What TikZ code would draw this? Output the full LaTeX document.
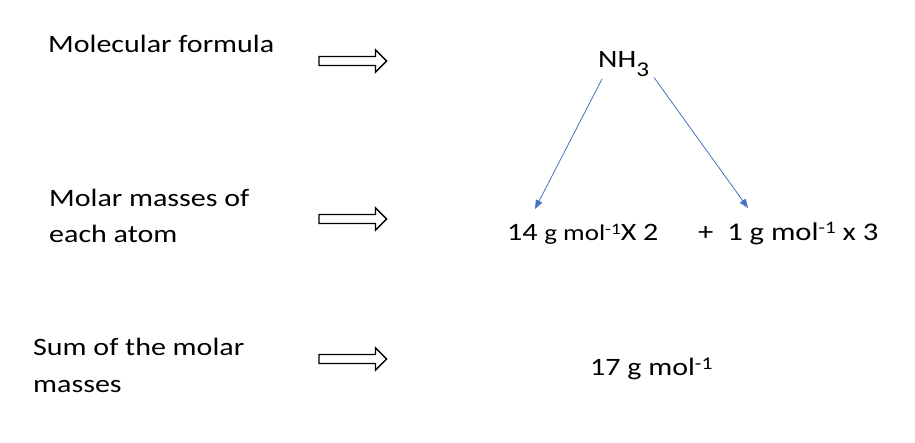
\documentclass[tikz,border=0pt]{standalone}
\usepackage{fontspec}
\setmainfont{Carlito}[FakeStretch=1.2]
\usetikzlibrary{arrows.meta, shapes.arrows}
\definecolor{LinkBlau}{RGB}{68,114,196}
\newcommand{\molsup}[2]{\raisebox{#1}{\fontsize{#2}{#2}\selectfont -1}}

\begin{document}
\begin{tikzpicture}[x=1pt, y=-1pt,
    label/.style={anchor=base west, inner sep=0pt, align=left, font=\fontsize{25}{36.5}\selectfont},
    fatarrow/.style={draw=black, line width=1.3pt, single arrow, single arrow head extend=6.5pt,
        minimum height=67.7pt, inner xsep=0pt, inner ysep=3.9pt, text height=0pt, text depth=0pt},
    link/.style={draw=LinkBlau, line width=0.8pt, -{Triangle[length=9pt, width=7pt]}}]
    \useasboundingbox (0,0) rectangle (915,443);
    % left column (multi-line nodes sit on their last line)
    \node[label] (MF) at (48,53)  {Molecular formula};
    \node[label] (MM) at (49,243) {Molar masses of\\each atom};
    \node[label] (SM) at (33,392) {Sum of the molar\\masses};
    % block arrows
    \node[fatarrow] (AR1) at (350.5,61)  {};
    \node[fatarrow] (AR2) at (350.5,219) {};
    \node[fatarrow] (AR3) at (350.5,359) {};
    % right column
    \node[label] (NH)  at (598,68)  {NH\raisebox{-9pt}{\fontsize{21}{21}\selectfont 3}};
    \node[label] (N14) at (507,241) {14 {\fontsize{22.5}{22.5}\selectfont g mol\molsup{6pt}{16}}X 2};
    \node[label, font=\fontsize{25.5}{36.5}\selectfont] (H1) at (698,241) {+\ \ 1 g mol\molsup{7pt}{17.5} x 3};
    \node[label] (SUM) at (590,375) {17 g mol\molsup{6pt}{18}};
    \draw[link] ([shift={(4,11)}]NH.base west)  -- ([shift={(28,-32)}]N14.base west);
    \draw[link] ([shift={(56,9.5)}]NH.base west) -- ([shift={(50,-33)}]H1.base west);
\end{tikzpicture}
\end{document}
